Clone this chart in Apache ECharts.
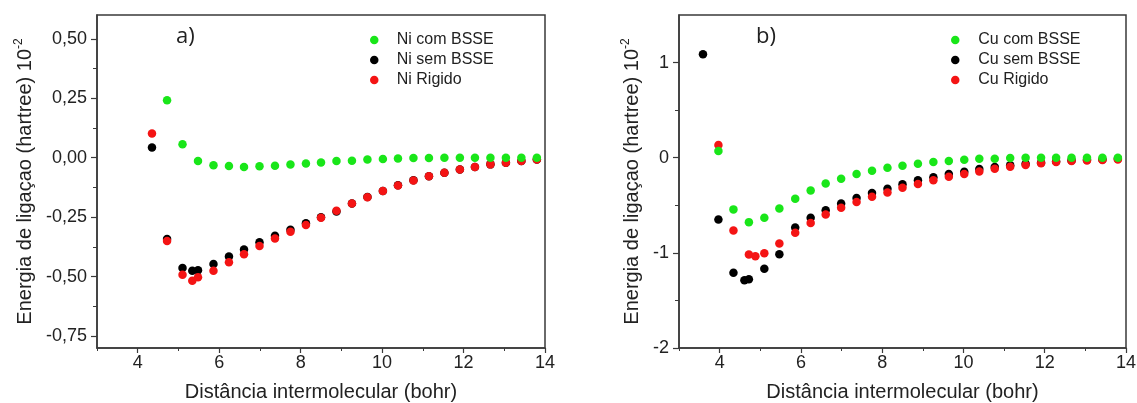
<!DOCTYPE html>
<html>
<head>
<meta charset="utf-8">
<script src="https://cdn.jsdelivr.net/npm/echarts@6/dist/echarts.min.js"></script>
<style>
html,body{margin:0;padding:0;background:#fff;}
#chart{width:1137px;height:403px;}
</style>
</head>
<body>
<div id="chart"></div>
<script>
// ---- Data (x in bohr, y in hartree x 10^-2) ----
const niComX = [4.72, 5.10, 5.48, 5.86, 6.24, 6.61, 6.99, 7.37, 7.75, 8.13, 8.50, 8.88, 9.26, 9.64, 10.02, 10.39, 10.77, 11.15, 11.53, 11.91, 12.28, 12.66, 13.04, 13.42, 13.80];
const niComY = [0.242, 0.057, -0.014, -0.032, -0.035, -0.039, -0.036, -0.034, -0.029, -0.024, -0.020, -0.014, -0.013, -0.008, -0.005, -0.003, -0.001, -0.001, 0, 0, 0, 0, 0, 0, 0];

const niSemX = [4.35, 4.72, 5.10, 5.34, 5.48, 5.86, 6.24, 6.61, 6.99, 7.37, 7.75, 8.13, 8.50, 8.88, 9.26, 9.64, 10.02, 10.39, 10.77, 11.15, 11.53, 11.91, 12.28, 12.66, 13.04, 13.42, 13.80];
const niSemY = [0.043, -0.342, -0.464, -0.475, -0.473, -0.447, -0.415, -0.386, -0.355, -0.328, -0.303, -0.276, -0.250, -0.226, -0.192, -0.165, -0.140, -0.116, -0.095, -0.078, -0.063, -0.050, -0.039, -0.028, -0.021, -0.014, -0.008];

const niRigX = [4.35, 4.72, 5.10, 5.34, 5.48, 5.86, 6.24, 6.61, 6.99, 7.37, 7.75, 8.13, 8.50, 8.88, 9.26, 9.64, 10.02, 10.39, 10.77, 11.15, 11.53, 11.91, 12.28, 12.66, 13.04, 13.42, 13.80];
const niRigY = [0.102, -0.350, -0.492, -0.517, -0.503, -0.475, -0.439, -0.406, -0.371, -0.340, -0.311, -0.283, -0.252, -0.223, -0.192, -0.166, -0.140, -0.117, -0.096, -0.078, -0.063, -0.050, -0.039, -0.028, -0.021, -0.014, -0.008];

const cuComX = [3.97, 4.34, 4.72, 5.10, 5.47, 5.86, 6.24, 6.61, 6.99, 7.37, 7.75, 8.13, 8.50, 8.88, 9.26, 9.64, 10.02, 10.39, 10.77, 11.15, 11.53, 11.91, 12.28, 12.66, 13.04, 13.42, 13.80];
const cuComY = [0.07, -0.543, -0.677, -0.632, -0.533, -0.432, -0.344, -0.27, -0.221, -0.172, -0.137, -0.105, -0.084, -0.063, -0.045, -0.035, -0.021, -0.011, -0.011, -0.004, 0, 0, 0, 0, 0, 0, 0];

const cuSemX = [3.59, 3.97, 4.34, 4.61, 4.72, 5.10, 5.47, 5.86, 6.24, 6.61, 6.99, 7.37, 7.75, 8.13, 8.50, 8.88, 9.26, 9.64, 10.02, 10.39, 10.77, 11.15, 11.53, 11.91, 12.28, 12.66, 13.04, 13.42, 13.80];
const cuSemY = [1.088, -0.649, -1.21, -1.287, -1.277, -1.168, -1.014, -0.733, -0.632, -0.551, -0.48, -0.424, -0.372, -0.326, -0.28, -0.238, -0.206, -0.172, -0.147, -0.119, -0.098, -0.08, -0.063, -0.053, -0.039, -0.028, -0.021, -0.018, -0.011];

const cuRigX = [3.97, 4.34, 4.72, 4.88, 5.10, 5.47, 5.86, 6.24, 6.61, 6.99, 7.37, 7.75, 8.13, 8.50, 8.88, 9.26, 9.64, 10.02, 10.39, 10.77, 11.15, 11.53, 11.91, 12.28, 12.66, 13.04, 13.42, 13.80];
const cuRigY = [0.134, -0.765, -1.017, -1.035, -1.003, -0.902, -0.789, -0.687, -0.596, -0.526, -0.466, -0.41, -0.365, -0.316, -0.277, -0.238, -0.2, -0.172, -0.144, -0.116, -0.095, -0.077, -0.059, -0.045, -0.035, -0.028, -0.025, -0.018];

// ---- Ticks ----
const xMajorTicks = [4, 6, 8, 10, 12, 14];
const xMinorTicks = [3, 5, 7, 9, 11, 13];
const yNiMajorTicks = [-0.75, -0.5, -0.25, 0, 0.25, 0.5];
const yNiMinorTicks = [-0.625, -0.375, -0.125, 0.125, 0.375];
const yCuMajorTicks = [-2, -1, 0, 1];
const yCuMinorTicks = [-1.5, -0.5, 0.5];

const seriesNames = {
  niCom: 'Ni com BSSE', niSem: 'Ni sem BSSE', niRig: 'Ni Rigido',
  cuCom: 'Cu com BSSE', cuSem: 'Cu sem BSSE', cuRig: 'Cu Rigido'
};

const GREEN = '#19e619', BLACK = '#000000', RED = '#f41414';
const AXIS_COLOR = '#3a3a3a';
const FONT = '"Liberation Sans", Arial, sans-serif';

function pairs(xs, ys) { return xs.map((x, i) => [x, ys[i]]); }

function xAxes(gridIndex) {
  return [
    {
      type: 'value', gridIndex, min: 3, max: 14, position: 'bottom',
      name: 'Distância intermolecular (bohr)', nameLocation: 'middle', nameGap: 34,
      nameTextStyle: { fontFamily: FONT, fontSize: 20, color: '#222' },
      axisLine: { show: true, onZero: false, lineStyle: { color: AXIS_COLOR, width: 1.5 } },
      axisTick: { show: true, inside: false, length: 5, customValues: xMajorTicks, lineStyle: { color: AXIS_COLOR, width: 1.2 } },
      axisLabel: { show: true, customValues: xMajorTicks, margin: 6, fontFamily: FONT, fontSize: 18, color: '#222' },
      splitLine: { show: false }
    },
    {
      type: 'value', gridIndex, min: 3, max: 14, position: 'bottom',
      axisLine: { show: false, onZero: false },
      axisTick: { show: true, inside: false, length: 3, customValues: xMinorTicks, lineStyle: { color: AXIS_COLOR, width: 1 } },
      axisLabel: { show: false },
      splitLine: { show: false }
    }
  ];
}

function yAxes(gridIndex, min, max, major, minor, fmt, nameGap) {
  const nm = '{t|Energia de ligaçao (hartree) 10}{s|-2}';
  return [
    {
      type: 'value', gridIndex, min, max, position: 'left',
      name: nm, nameLocation: 'middle', nameGap, nameRotate: 90,
      nameTextStyle: {
        fontFamily: FONT, color: '#222',
        rich: {
          t: { fontFamily: FONT, fontSize: 20, color: '#222', lineHeight: 24 },
          s: { fontFamily: FONT, fontSize: 12, color: '#222', verticalAlign: 'top', lineHeight: 12 }
        }
      },
      axisLine: { show: true, onZero: false, lineStyle: { color: AXIS_COLOR, width: 1.5 } },
      axisTick: { show: true, inside: false, length: 6, customValues: major, lineStyle: { color: AXIS_COLOR, width: 1.2 } },
      axisLabel: { show: true, customValues: major, margin: 10, fontFamily: FONT, fontSize: 18, color: '#222', formatter: fmt },
      splitLine: { show: false }
    },
    {
      type: 'value', gridIndex, min, max, position: 'left',
      axisLine: { show: false, onZero: false },
      axisTick: { show: true, inside: false, length: 4, customValues: minor, lineStyle: { color: AXIS_COLOR, width: 1 } },
      axisLabel: { show: false },
      splitLine: { show: false }
    }
  ];
}

const niFmt = v => v.toFixed(2).replace('.', ',');
const cuFmt = v => String(Math.round(v));

function scatter(name, xi, yi, data, color) {
  return {
    type: 'scatter', name, xAxisIndex: xi, yAxisIndex: yi, data,
    symbol: 'circle', symbolSize: 8.5,
    itemStyle: { color, opacity: 1 },
    emphasis: { disabled: true }, animation: false
  };
}

const chart = echarts.init(document.getElementById('chart'), null, { renderer: 'canvas' });

const legendText = { fontFamily: FONT, fontSize: 16, color: '#222', lineHeight: 16 };

const option = {
  backgroundColor: '#fff',
  animation: false,
  grid: [
    { left: 97, top: 15, width: 448, height: 333, show: true, borderColor: AXIS_COLOR, borderWidth: 1.5, backgroundColor: 'transparent', containLabel: false, outerBoundsMode: 'none' },
    { left: 679, top: 15, width: 447, height: 333, show: true, borderColor: AXIS_COLOR, borderWidth: 1.5, backgroundColor: 'transparent', containLabel: false, outerBoundsMode: 'none' }
  ],
  xAxis: [...xAxes(0), ...xAxes(1)],
  yAxis: [
    ...yAxes(0, -0.8, 0.6, yNiMajorTicks, yNiMinorTicks, niFmt, 60),
    ...yAxes(1, -2, 1.5, yCuMajorTicks, yCuMinorTicks, cuFmt, 35)
  ],
  legend: [
    {
      data: [seriesNames.niCom, seriesNames.niSem, seriesNames.niRig],
      orient: 'vertical', left: 365, top: 27, itemWidth: 35, itemHeight: 8.5, itemGap: 4,
      icon: 'circle', selectedMode: false, textStyle: legendText
    },
    {
      data: [seriesNames.cuCom, seriesNames.cuSem, seriesNames.cuRig],
      orient: 'vertical', left: 946, top: 27, itemWidth: 36, itemHeight: 8.5, itemGap: 4,
      icon: 'circle', selectedMode: false, textStyle: legendText
    }
  ],
  graphic: [
    { type: 'text', left: 176, top: 26, style: { text: 'a)', font: '22px "Open Sans", sans-serif', fill: '#222' } },
    { type: 'text', left: 756, top: 26, style: { text: 'b)', font: '22px "Open Sans", sans-serif', fill: '#222' } }
  ],
  series: [
    scatter(seriesNames.niSem, 0, 0, pairs(niSemX, niSemY), BLACK),
    scatter(seriesNames.niRig, 0, 0, pairs(niRigX, niRigY), RED),
    scatter(seriesNames.niCom, 0, 0, pairs(niComX, niComY), GREEN),
    scatter(seriesNames.cuSem, 2, 2, pairs(cuSemX, cuSemY), BLACK),
    scatter(seriesNames.cuRig, 2, 2, pairs(cuRigX, cuRigY), RED),
    scatter(seriesNames.cuCom, 2, 2, pairs(cuComX, cuComY), GREEN)
  ]
};
chart.setOption(option);
</script>
</body>
</html>
